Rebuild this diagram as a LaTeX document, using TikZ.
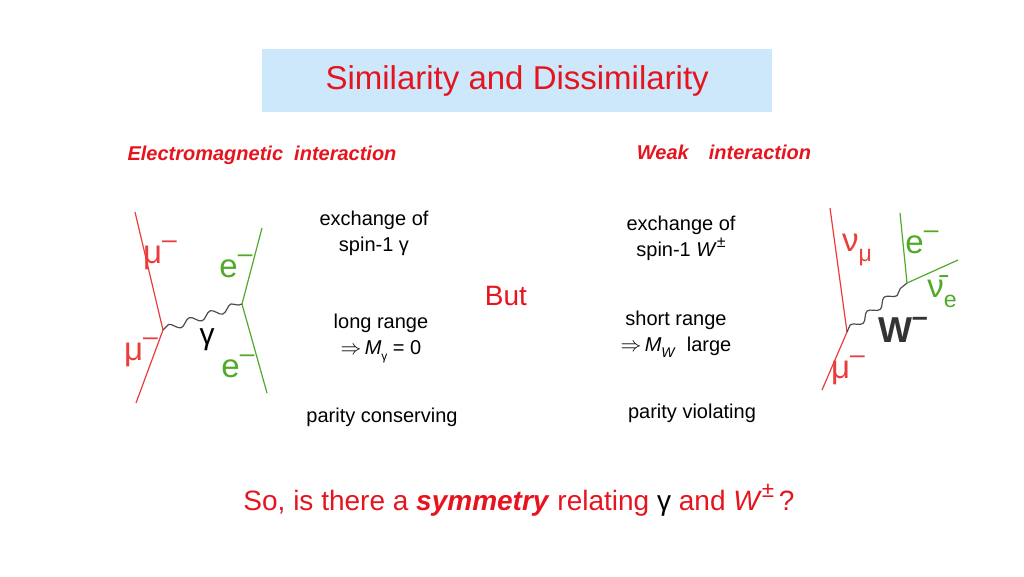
\documentclass[tikz,border=0pt]{standalone}
\usepackage{fontspec}
\setmainfont{Liberation Sans}
\usetikzlibrary{decorations.pathmorphing}
\definecolor{tred}{RGB}{230,20,30}
\definecolor{lred}{RGB}{235,60,60}
\definecolor{lgreen}{RGB}{80,170,40}
\definecolor{tblue}{RGB}{204,232,250}
\newcommand{\mysup}[1]{\raisebox{0.45em}{\scalebox{0.8}{#1}}}
\begin{document}
\begin{tikzpicture}[x=1pt,y=-1pt,
 txt/.style={font=\fontsize{20}{26}\selectfont,align=center,inner sep=0},
 hdr/.style={font=\fontsize{20}{24}\selectfont\bfseries\itshape,text=tred,inner sep=0},
 fer/.style={lred,line width=1.2pt},
 fgr/.style={lgreen,line width=1.2pt},
 bos/.style={black!70,line width=1.2pt,decorate,decoration={snake,segment length=22,amplitude=3.5}},
 rl/.style={text=lred,font=\fontsize{33}{36}\selectfont,inner sep=0},
 gl/.style={text=lgreen,font=\fontsize{33}{36}\selectfont,inner sep=0}]
\useasboundingbox (0,0) rectangle (1024,576);
\node[fill=tblue,minimum width=510,minimum height=63,anchor=north west,inner sep=0] (title) at (262,49) {};
\node[text=tred,font=\fontsize{33}{38}\selectfont] (tt) at (title.center) {Similarity and Dissimilarity};
\node[hdr] (em) at (262,155) {Electromagnetic\ \ interaction};
\node[hdr] (wk) at (724,152) {Weak\quad interaction};
\node[txt] (a1) at (374,233) {exchange of\\spin-1 γ};
\node[txt] (a2) at (381,338) {long range\\$\Rightarrow$\,\textit{M}\raisebox{-0.3em}{\scalebox{0.6}{γ}} = 0};
\node[txt] (a3) at (382,417) {parity conserving};
\node[txt] (b1) at (681,238) {exchange of\\spin-1 \textit{W}\mysup{±}};
\node[txt] (b2) at (676,334) {short range\\$\Rightarrow$\,\textit{M}\raisebox{-0.3em}{\scalebox{0.7}{\textit{W}}}\ \ large};
\node[txt] (b3) at (692,413) {parity violating};
\node[text=tred,font=\fontsize{28}{32}\selectfont,inner sep=0] (but) at (506,296) {But};
\node[text=tred,font=\fontsize{28}{32}\selectfont,inner sep=0] (so) at (519,500) {So, is there a \textbf{\textit{symmetry}} relating \textcolor{black}{γ} and \textit{W}\mysup{±}\,?};
% left diagram
\coordinate (l1) at (135,212); \coordinate (lv1) at (163,330); \coordinate (l2) at (136,403);
\coordinate (r1) at (262,228); \coordinate (lv2) at (242,304); \coordinate (r2) at (267,393);
\draw[fer] (l1) -- (lv1) -- (l2);
\draw[fgr] (r1) -- (lv2) -- (r2);
\draw[bos] (lv1) -- (lv2);
\node[rl] (m1) at (160,255) {μ\mysup{–}};
\node[rl] (m2) at (141,352) {μ\mysup{–}};
\node[gl] (e1) at (236,266) {e\mysup{–}};
\node[gl] (e2) at (238,366) {e\mysup{–}};
\node[font=\fontsize{30}{32}\selectfont,inner sep=0] (g) at (207,340) {γ};
% right diagram
\coordinate (n1) at (830,208); \coordinate (wv1) at (847,332); \coordinate (n2) at (822,390);
\coordinate (q1) at (900,213); \coordinate (wv2) at (907,283); \coordinate (q2) at (958,260);
\draw[fer] (n1) -- (wv1) -- (n2);
\draw[fgr] (q1) -- (wv2) -- (q2);
\draw[bos] (wv1) -- (wv2);
\node[rl] (nm) at (857,250) {ν\raisebox{-0.3em}{\scalebox{0.7}{μ}}};
\node[rl] (mm) at (848,370) {μ\mysup{–}};
\node[gl] (ee) at (922,242) {e\mysup{–}};
\node[gl] (ne) at (942,292) {\=ν\raisebox{-0.3em}{\scalebox{0.7}{e}}};
\node[font=\fontsize{36}{38}\selectfont\bfseries,inner sep=0,text=black!80] (w) at (903,330) {W\mysup{–}};
\end{tikzpicture}
\end{document}
